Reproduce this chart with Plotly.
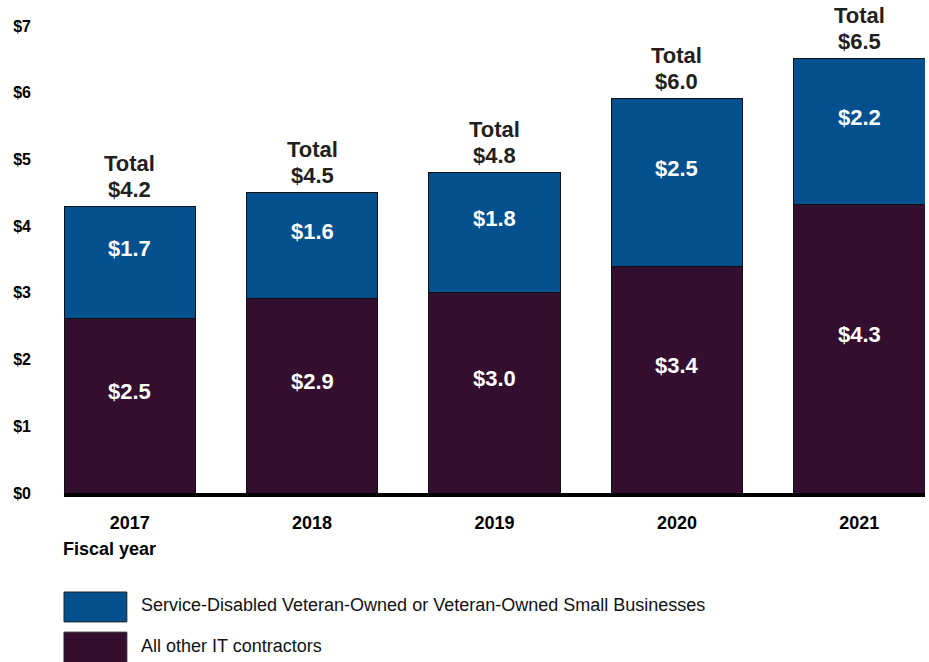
"""Stacked bar chart of IT contract obligations by fiscal year."""

import plotly.graph_objects as go

FISCAL_YEARS = ["2017", "2018", "2019", "2020", "2021"]

SERIES_NAMES = [
    "Service-Disabled Veteran-Owned or Veteran-Owned Small Businesses",
    "All other IT contractors",
]

# Bar heights (billions of dollars)
OTHER_VALUES = [2.61, 2.91, 3.00, 3.40, 4.32]
VETERAN_VALUES = [1.69, 1.60, 1.81, 2.52, 2.20]

# Labels printed on the bars
OTHER_LABELS = ["$2.5", "$2.9", "$3.0", "$3.4", "$4.3"]
VETERAN_LABELS = ["$1.7", "$1.6", "$1.8", "$2.5", "$2.2"]
TOTAL_LABELS = ["$4.2", "$4.5", "$4.8", "$6.0", "$6.5"]

Y_TICKS = [0, 1, 2, 3, 4, 5, 6, 7]
Y_TICK_LABELS = ["$0", "$1", "$2", "$3", "$4", "$5", "$6", "$7"]

VETERAN_COLOR = "#03508F"
OTHER_COLOR = "#330E2F"
TOTAL_COLOR = "#231F20"
FONT_FAMILY = "Arial, 'Liberation Sans', sans-serif"

figure = go.Figure()

figure.add_trace(
    go.Bar(
        x=FISCAL_YEARS,
        y=OTHER_VALUES,
        name=SERIES_NAMES[1],
        marker={"color": OTHER_COLOR, "line": {"color": "#111111", "width": 1}},
    )
)

figure.add_trace(
    go.Bar(
        x=FISCAL_YEARS,
        y=VETERAN_VALUES,
        name=SERIES_NAMES[0],
        marker={"color": VETERAN_COLOR, "line": {"color": "#111111", "width": 1}},
    )
)

inner_font = {"size": 22, "color": "white", "weight": "bold"}
total_font = {"size": 22, "color": TOTAL_COLOR, "weight": "bold"}

annotations = []
for index, year in enumerate(FISCAL_YEARS):
    other = OTHER_VALUES[index]
    veteran = VETERAN_VALUES[index]
    annotations.append(
        {
            "x": index,
            "y": other / 2,
            "xref": "x",
            "yref": "y",
            "text": OTHER_LABELS[index],
            "showarrow": False,
            "yshift": 14,
            "font": inner_font,
        }
    )
    annotations.append(
        {
            "x": index,
            "y": other + veteran / 2,
            "xref": "x",
            "yref": "y",
            "text": VETERAN_LABELS[index],
            "showarrow": False,
            "yshift": 14,
            "font": inner_font,
        }
    )
    # "Total" and the amount are stacked as two tight lines above the bar
    annotations.append(
        {
            "x": index,
            "y": other + veteran,
            "xref": "x",
            "yref": "y",
            "text": TOTAL_LABELS[index],
            "showarrow": False,
            "yanchor": "middle",
            "yshift": 17,
            "borderpad": 0,
            "font": total_font,
        }
    )
    annotations.append(
        {
            "x": index,
            "y": other + veteran,
            "xref": "x",
            "yref": "y",
            "text": "Total",
            "showarrow": False,
            "yanchor": "middle",
            "yshift": 43,
            "borderpad": 0,
            "font": total_font,
        }
    )

annotations.append(
    {
        "x": -0.004,
        "y": -0.12,
        "xref": "paper",
        "yref": "paper",
        "xanchor": "left",
        "yanchor": "middle",
        "text": "Fiscal year",
        "showarrow": False,
        "font": {"size": 18, "color": "black", "weight": "bold"},
    }
)

# Hand-drawn legend below the plot
legend_rows = [
    (SERIES_NAMES[0], VETERAN_COLOR, -0.212, -0.276),
    (SERIES_NAMES[1], OTHER_COLOR, -0.298, -0.365),
]
shapes = []
for label, color, top, bottom in legend_rows:
    shapes.append(
        {
            "type": "rect",
            "xref": "paper",
            "yref": "paper",
            "x0": 0,
            "x1": 0.073,
            "y0": bottom,
            "y1": top,
            "fillcolor": color,
            "line": {"color": "#222222", "width": 1},
        }
    )
    annotations.append(
        {
            "x": 0.087,
            "y": (top + bottom) / 2 + 0.004,
            "xref": "paper",
            "yref": "paper",
            "xanchor": "left",
            "yanchor": "middle",
            "text": label,
            "showarrow": False,
            "font": {"size": 18, "color": "#111111"},
        }
    )

figure.update_layout(
    barmode="stack",
    bargap=0.28,
    width=929,
    height=662,
    margin={"l": 64, "r": 4, "t": 26, "b": 169},
    paper_bgcolor="white",
    plot_bgcolor="white",
    showlegend=False,
    font={"family": FONT_FAMILY, "color": "black"},
    annotations=annotations,
    shapes=shapes,
)

figure.update_xaxes(
    type="category",
    range=[-0.36, 4.36],
    showline=True,
    linecolor="black",
    linewidth=4,
    showgrid=False,
    ticks="",
    automargin=False,
    ticklabelstandoff=10,
    tickfont={"size": 18, "weight": "bold"},
)

figure.update_yaxes(
    range=[0, 7],
    tickmode="array",
    tickvals=Y_TICKS,
    ticktext=Y_TICK_LABELS,
    showgrid=False,
    zeroline=False,
    showline=False,
    ticks="",
    automargin=False,
    ticklabelstandoff=32,
    tickfont={"size": 16, "weight": "bold"},
)

# the page body has an 8px default margin; drop it so the figure sits at 0,0
figure.write_html(
    "out.html",
    config={"displayModeBar": False},
    post_script="document.body.style.margin='0';",
)
